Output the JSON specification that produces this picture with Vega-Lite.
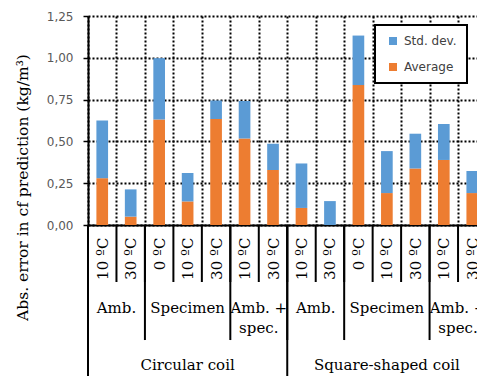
{
  "$schema": "https://vega.github.io/schema/vega-lite/v6.json",
  "autosize": {"type": "none"},
  "width": 389,
  "height": 209,
  "padding": {"left": 88, "top": 16, "right": 0, "bottom": 151},
  "background": "white",
  "config": {"view": {"stroke": null}, "font": "DejaVu Sans", "legend": {"strokeWidth": 2}},
  "data": {
    "values": [
      {"bar": "Circular coil|Amb.|10 ºC", "coil": "Circular coil", "group": "Amb.", "temp": "10 ºC", "avg": 0.28, "std": 0.345},
      {"bar": "Circular coil|Amb.|30 ºC", "coil": "Circular coil", "group": "Amb.", "temp": "30 ºC", "avg": 0.05, "std": 0.163},
      {"bar": "Circular coil|Specimen|0 ºC", "coil": "Circular coil", "group": "Specimen", "temp": "0 ºC", "avg": 0.631, "std": 0.367},
      {"bar": "Circular coil|Specimen|10 ºC", "coil": "Circular coil", "group": "Specimen", "temp": "10 ºC", "avg": 0.141, "std": 0.17},
      {"bar": "Circular coil|Specimen|30 ºC", "coil": "Circular coil", "group": "Specimen", "temp": "30 ºC", "avg": 0.634, "std": 0.111},
      {"bar": "Circular coil|Amb. + spec.|10 ºC", "coil": "Circular coil", "group": "Amb. +\nspec.", "temp": "10 ºC", "avg": 0.518, "std": 0.223},
      {"bar": "Circular coil|Amb. + spec.|30 ºC", "coil": "Circular coil", "group": "Amb. +\nspec.", "temp": "30 ºC", "avg": 0.329, "std": 0.157},
      {"bar": "Square-shaped coil|Amb.|10 ºC", "coil": "Square-shaped coil", "group": "Amb.", "temp": "10 ºC", "avg": 0.102, "std": 0.266},
      {"bar": "Square-shaped coil|Amb.|30 ºC", "coil": "Square-shaped coil", "group": "Amb.", "temp": "30 ºC", "avg": 0.0, "std": 0.143},
      {"bar": "Square-shaped coil|Specimen|0 ºC", "coil": "Square-shaped coil", "group": "Specimen", "temp": "0 ºC", "avg": 0.837, "std": 0.296},
      {"bar": "Square-shaped coil|Specimen|10 ºC", "coil": "Square-shaped coil", "group": "Specimen", "temp": "10 ºC", "avg": 0.191, "std": 0.251},
      {"bar": "Square-shaped coil|Specimen|30 ºC", "coil": "Square-shaped coil", "group": "Specimen", "temp": "30 ºC", "avg": 0.338, "std": 0.208},
      {"bar": "Square-shaped coil|Amb. + spec.|10 ºC", "coil": "Square-shaped coil", "group": "Amb. +\nspec.", "temp": "10 ºC", "avg": 0.389, "std": 0.215},
      {"bar": "Square-shaped coil|Amb. + spec.|30 ºC", "coil": "Square-shaped coil", "group": "Amb. +\nspec.", "temp": "30 ºC", "avg": 0.191, "std": 0.132}
    ]
  },
  "layer": [
    {
      "transform": [{"fold": ["avg", "std"], "as": ["series", "value"]}],
      "mark": {"type": "bar", "width": {"band": 0.41}},
      "encoding": {
        "x": {
          "field": "bar", "type": "nominal", "sort": null,
          "scale": {
            "domain": ["Circular coil|Amb.|10 ºC", "Circular coil|Amb.|30 ºC", "Circular coil|Specimen|0 ºC", "Circular coil|Specimen|10 ºC", "Circular coil|Specimen|30 ºC", "Circular coil|Amb. + spec.|10 ºC", "Circular coil|Amb. + spec.|30 ºC", "Square-shaped coil|Amb.|10 ºC", "Square-shaped coil|Amb.|30 ºC", "Square-shaped coil|Specimen|0 ºC", "Square-shaped coil|Specimen|10 ºC", "Square-shaped coil|Specimen|30 ºC", "Square-shaped coil|Amb. + spec.|10 ºC", "Square-shaped coil|Amb. + spec.|30 ºC"],
            "range": [0, 398.5], "paddingInner": 0, "paddingOuter": 0
          },
          "axis": {
            "title": null,
            "labelExpr": "isString(datum.value) ? slice(datum.value, lastindexof(datum.value, '|') + 1) : ''",
            "labelAngle": 270, "labelAlign": "right", "labelBaseline": "middle",
            "labelPadding": 12, "labelFont": "DejaVu Serif", "labelFontSize": 15, "labelColor": "#000",
            "labelOverlap": false, "labelBound": false, "labelFlush": false,
            "ticks": false, "domainColor": "#000", "domainWidth": 2,
            "grid": true, "gridColor": "#000", "gridDash": [2, 2], "gridWidth": 2, "tickBand": "extent"
          }
        },
        "y": {
          "field": "value", "type": "quantitative", "stack": "zero",
          "scale": {"domain": [0, 1.25], "nice": false},
          "axis": {
            "title": "Abs. error in cf prediction (kg/m³)",
            "values": [0, 0.25, 0.5, 0.75, 1, 1.25],
            "format": ".2f",
            "labelExpr": "replace(datum.label, '.', ',')",
            "labelFont": "DejaVu Sans", "labelFontSize": 12, "labelColor": "#595959", "labelPadding": 10,
            "tickSize": 5, "tickColor": "#000", "tickWidth": 1.5,
            "domainColor": "#000", "domainWidth": 2,
            "grid": true, "gridColor": "#000", "gridDash": [2, 2], "gridWidth": 2,
            "titleFont": "DejaVu Serif", "titleFontSize": 15.5, "titleFontWeight": "normal", "titleColor": "#000",
            "titleAngle": 270, "titleAlign": "center", "titleBaseline": "alphabetic", "titleX": -61, "titleY": 171
          }
        },
        "color": {
          "field": "series", "type": "nominal",
          "scale": {"domain": ["std", "avg"], "range": ["#5B9BD5", "#ED7D31"]},
          "legend": {
            "orient": "none", "legendX": 287, "legendY": 9, "title": null,
            "labelExpr": "datum.value == 'std' ? 'Std. dev.' : 'Average'",
            "symbolType": "square", "symbolSize": 64, "symbolStrokeWidth": 0, "symbolOffset": 2,
            "labelFont": "DejaVu Sans", "labelFontSize": 12, "labelColor": "#404040",
            "strokeColor": "#000", "fillColor": "#fff",
            "padding": 10, "rowPadding": 14, "labelOffset": 5
          }
        },
        "order": {"field": "series", "sort": "ascending"}
      }
    },
    {
      "mark": {"type": "rule", "color": "#000", "strokeWidth": 2},
      "encoding": {
        "x": {"field": "bar", "type": "nominal", "bandPosition": 0, "title": null},
        "y": {"datum": 0},
        "y2": {"datum": -0.341}
      }
    },
    {
      "transform": [{"filter": "(datum.group == 'Specimen' && datum.temp == '0 ºC') || (datum.group != 'Specimen' && datum.temp == '10 ºC')"}],
      "mark": {"type": "rule", "color": "#000", "strokeWidth": 2},
      "encoding": {
        "x": {"field": "bar", "type": "nominal", "bandPosition": 0, "title": null},
        "y": {"datum": 0},
        "y2": {"datum": -0.688}
      }
    },
    {
      "transform": [{"filter": "datum.group == 'Amb.' && datum.temp == '10 ºC'"}],
      "mark": {"type": "rule", "color": "#000", "strokeWidth": 2},
      "encoding": {
        "x": {"field": "bar", "type": "nominal", "bandPosition": 0, "title": null},
        "y": {"datum": 0},
        "y2": {"datum": -1.0}
      }
    },
    {
      "transform": [{"filter": "datum.group != 'Specimen' && datum.temp == '30 ºC'"}],
      "mark": {"type": "text", "font": "DejaVu Serif", "fontSize": 15, "color": "#000", "align": "center", "baseline": "alphabetic", "lineBreak": "\n", "lineHeight": 20},
      "encoding": {
        "x": {"field": "bar", "type": "nominal", "bandPosition": 0, "title": null},
        "y": {"datum": -0.525},
        "text": {"field": "group"}
      }
    },
    {
      "transform": [{"filter": "datum.group == 'Specimen' && datum.temp == '10 ºC'"}],
      "mark": {"type": "text", "font": "DejaVu Serif", "fontSize": 15, "color": "#000", "align": "center", "baseline": "alphabetic"},
      "encoding": {
        "x": {"field": "bar", "type": "nominal", "bandPosition": 0.5, "title": null},
        "y": {"datum": -0.525},
        "text": {"field": "group"}
      }
    },
    {
      "transform": [{"filter": "datum.group == 'Specimen' && datum.temp == '10 ºC'"}],
      "mark": {"type": "text", "font": "DejaVu Serif", "fontSize": 15, "color": "#000", "align": "center", "baseline": "alphabetic"},
      "encoding": {
        "x": {"field": "bar", "type": "nominal", "bandPosition": 0.5, "title": null},
        "y": {"datum": -0.87},
        "text": {"field": "coil"}
      }
    }
  ]
}
